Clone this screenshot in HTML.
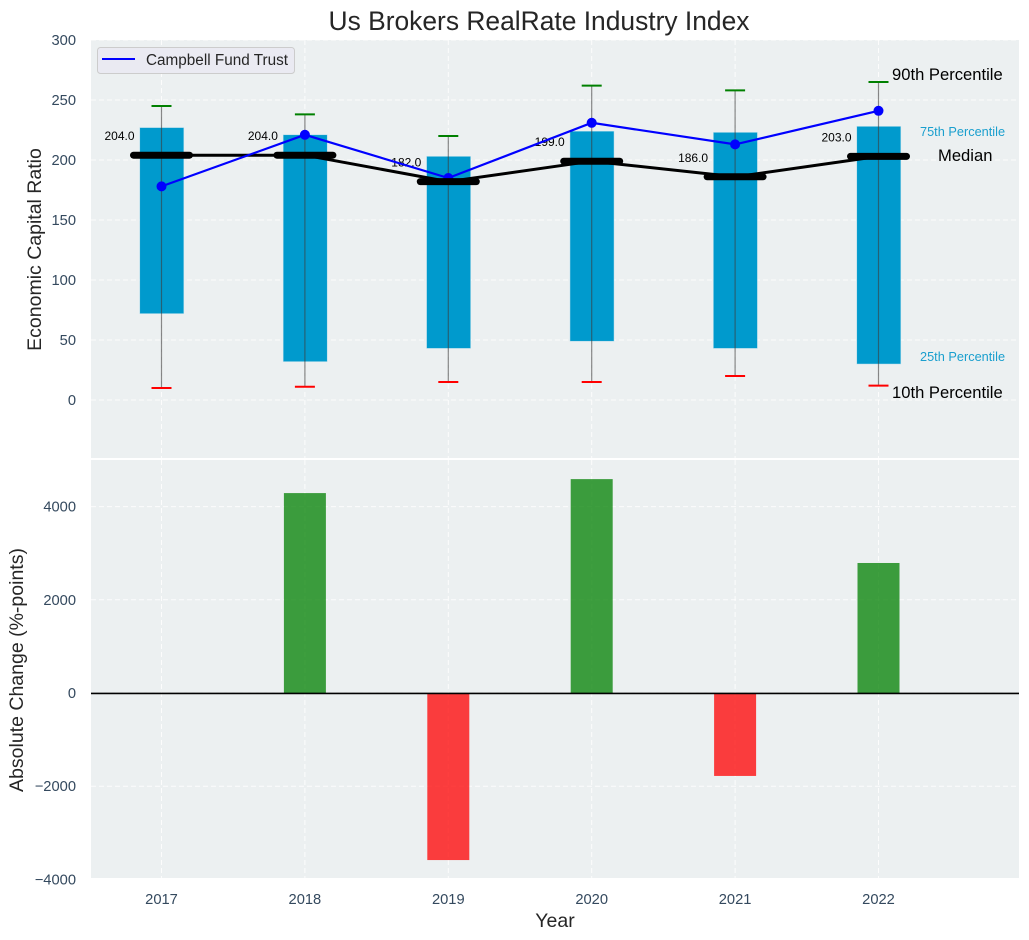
<!DOCTYPE html>
<html lang="en">
<head>
<meta charset="utf-8">
<title>Us Brokers RealRate Industry Index</title>
<style>
html,body{margin:0;padding:0;background:#fff;width:1029px;height:940px;overflow:hidden}
svg{display:block}
text{font-family:"Liberation Sans",Arial,sans-serif}
</style>
</head>
<body>
<svg id="chart" xmlns="http://www.w3.org/2000/svg" width="1029" height="940" viewBox="0 0 1029 940">
<rect x="91" y="40" width="928" height="418" fill="#ecf0f1"/>
<rect x="91" y="460" width="928" height="418" fill="#ecf0f1"/>
<g id="grid"></g>
<g id="bars"></g>
<g id="labels"></g>
<g id="whiskers"></g>
<g id="medianLine"></g>
<g id="fund"></g>
<g id="medianMarks"></g>
<g id="changes"></g>
<g id="ticks"></g>

<text x="539" y="30" text-anchor="middle" font-size="26.4" fill="#262626">Us Brokers RealRate Industry Index</text>
<text x="555" y="927" text-anchor="middle" font-size="19.5" fill="#262626">Year</text>
<text transform="translate(41,249.5) rotate(-90)" text-anchor="middle" font-size="19.5" fill="#262626">Economic Capital Ratio</text>
<text transform="translate(23,670) rotate(-90)" text-anchor="middle" font-size="19.5" fill="#262626">Absolute Change (%-points)</text>

<g>
<rect x="97.5" y="47.5" width="197" height="26" rx="3" fill="#eaeaf2" stroke="#cccccc"/>
<line x1="102" y1="59" x2="135" y2="59" stroke="#0000ff" stroke-width="2"/>
<text x="146" y="65" font-size="15.3" fill="#262626">Campbell Fund Trust</text>
</g>

<g>
<text x="892" y="80" font-size="16.6" fill="#000">90th Percentile</text>
<text x="920" y="136" font-size="12.75" fill="#1a9fce">75th Percentile</text>
<text x="938" y="161" font-size="16.6" fill="#000">Median</text>
<text x="920" y="361" font-size="12.75" fill="#1a9fce">25th Percentile</text>
<text x="892" y="398" font-size="16.6" fill="#000">10th Percentile</text>
</g>
</svg>
<script>
const years = [2017, 2018, 2019, 2020, 2021, 2022];
const p90 = [245, 238, 220, 262, 258, 265];
const p75 = [227, 221, 203, 224, 223, 228];
const median = [204, 204, 182, 199, 186, 203];
const p25 = [72, 32, 43, 49, 43, 30];
const p10 = [10, 11, 15, 15, 20, 12];
const fundValues = [178, 221, 185, 231, 213, 241];
const changeValues = [null, 4290, -3585, 4590, -1780, 2790];
const topTicks = [0, 50, 100, 150, 200, 250, 300];
const bottomTicks = [-4000, -2000, 0, 2000, 4000];

const NS = 'http://www.w3.org/2000/svg';
function xScale(v) { return 161.5 + (v - 2017) * 143.4; }
function yTop(v) { return 400 - v * 1.2; }
function yBottom(v) { return 693 - v * 0.0466; }
function mk(parent, tag, attrs) {
  const el = document.createElementNS(NS, tag);
  for (const k in attrs) el.setAttribute(k, attrs[k]);
  document.getElementById(parent).appendChild(el);
  return el;
}
function label(v) { return String(v).replace('-', '\u2212'); }

/* grid */
years.forEach(function (yr) {
  const a = mk('grid', 'line', {x1: xScale(yr), x2: xScale(yr), y1: 40, y2: 458, stroke: '#fff', 'stroke-width': 1, 'stroke-dasharray': '5 3', opacity: 0.85});
  
  
  const b = mk('grid', 'line', {x1: xScale(yr), x2: xScale(yr), y1: 460, y2: 878, stroke: '#fff', 'stroke-width': 1, 'stroke-dasharray': '5 3', opacity: 0.85});
  
  
  const t = mk('ticks', 'text', {x: xScale(yr), y: 904, 'text-anchor': 'middle', 'font-size': 14.7, fill: '#34495e'});
  t.textContent = yr;
  
  
});
topTicks.forEach(function (v) {
  const g = mk('grid', 'line', {x1: 91, x2: 1019, y1: yTop(v), y2: yTop(v), stroke: '#fff', 'stroke-width': 1, 'stroke-dasharray': '5 3', opacity: 0.85});
  
  
  const t = mk('ticks', 'text', {x: 76, y: yTop(v) + 5, 'text-anchor': 'end', 'font-size': 14.7, fill: '#34495e'});
  t.textContent = label(v);
  
  
});
bottomTicks.forEach(function (v) {
  if (yBottom(v) < 878) {
    const g = mk('grid', 'line', {x1: 91, x2: 1019, y1: yBottom(v), y2: yBottom(v), stroke: '#fff', 'stroke-width': 1, 'stroke-dasharray': '5 3', opacity: 0.85});
    
    
  }
  const t = mk('ticks', 'text', {x: 76, y: yBottom(v) + 5, 'text-anchor': 'end', 'font-size': 14.7, fill: '#34495e'});
  t.textContent = label(v);
  
  
});

/* boxes, whiskers, labels */
years.forEach(function (yr, i) {
  const cx = xScale(yr);
  const box = mk('bars', 'rect', {x: cx - 21.7, y: yTop(p75[i]), width: 44, height: yTop(p25[i]) - yTop(p75[i]), fill: '#009acd', stroke: '#b5dceb', 'stroke-width': 0.5});
  
  
  const w = mk('whiskers', 'line', {x1: cx, x2: cx, y1: yTop(p90[i]), y2: yTop(p10[i]), stroke: '#3c3c3c', 'stroke-width': 1.2, opacity: 0.6});
  
  
  const hi = mk('whiskers', 'line', {x1: cx - 10, x2: cx + 10, y1: yTop(p90[i]), y2: yTop(p90[i]), stroke: '#008000', 'stroke-width': 2});
  
  
  const lo = mk('whiskers', 'line', {x1: cx - 10, x2: cx + 10, y1: yTop(p10[i]), y2: yTop(p10[i]), stroke: '#ff0000', 'stroke-width': 2});
  
  
  const t = mk('labels', 'text', {x: cx - 27, y: yTop(median[i]) - 15, 'text-anchor': 'end', 'font-size': 12, fill: '#000'});
  t.textContent = median[i].toFixed(1);
  
  
  const m = mk('medianMarks', 'line', {x1: cx - 28, x2: cx + 28, y1: yTop(median[i]), y2: yTop(median[i]), stroke: '#000', 'stroke-width': 7, 'stroke-linecap': 'round'});
  
  
});

/* median connecting line */
const medPath = mk('medianLine', 'polyline', {points: years.map(function (yr, i) { return xScale(yr) + ',' + yTop(median[i]); }).join(' '), fill: 'none', stroke: '#000', 'stroke-width': 3});



/* fund series */
const fundPath = mk('fund', 'polyline', {points: years.map(function (yr, i) { return xScale(yr) + ',' + yTop(fundValues[i]); }).join(' '), fill: 'none', stroke: '#0000ff', 'stroke-width': 2.2});


years.forEach(function (yr, i) {
  const c = mk('fund', 'circle', {cx: xScale(yr), cy: yTop(fundValues[i]), r: 5, fill: '#0000ff'});
  
  
});

/* change bars */
years.forEach(function (yr, i) {
  const v = changeValues[i];
  if (v === null) return;
  const y0 = yBottom(0), y1 = yBottom(v);
  const r = mk('changes', 'rect', {x: xScale(yr) - 21, y: Math.min(y0, y1), width: 42, height: Math.abs(y1 - y0), fill: v >= 0 ? '#008000' : '#ff0000', opacity: 0.75});
  
  
});
const zero = mk('changes', 'line', {x1: 91, x2: 1019, y1: yBottom(0) + 0.4, y2: yBottom(0) + 0.4, stroke: '#000', 'stroke-width': 1.6});


</script>
</body>
</html>
